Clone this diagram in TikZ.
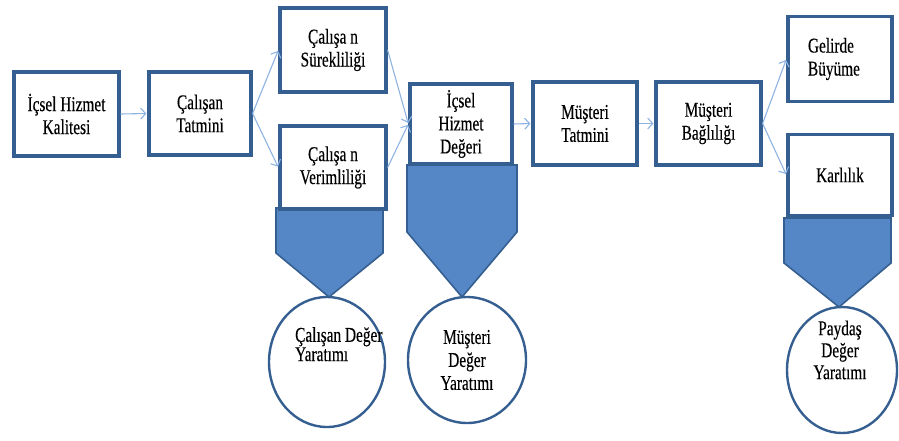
\documentclass[tikz,border=0pt]{standalone}
\usepackage{fontspec}
\setmainfont{Liberation Serif}
\newfontfamily\labelfont{Liberation Serif}[FakeStretch=0.73,FakeBold=0.3]
\usetikzlibrary{arrows.meta,shapes.geometric}
\definecolor{boxline}{HTML}{365F91}
\definecolor{arrowblue}{HTML}{8DB3E2}
\definecolor{shieldfill}{HTML}{5587C6}
\begin{document}
\begin{tikzpicture}[x=1pt,y=-1pt,
  every node/.style={font=\labelfont\fontsize{21}{23}\selectfont, text=black},
  stagebox/.style={draw=boxline, line width=3.2pt, fill=white, rectangle, align=center, inner sep=0pt},
  flow/.style={draw=arrowblue, line width=1.1pt, -{Straight Barb[length=5pt,width=11pt]}, shorten >=1pt},
  shield/.style={fill=shieldfill, draw=boxline, line width=1.6pt, line join=miter},
  valuecircle/.style={draw=boxline, line width=2.4pt, fill=white, ellipse, inner sep=0pt}]
\useasboundingbox (0,0) rectangle (899,440);

% value shields hanging below the chain
\path[shield] (276,208) -- (383,208) -- (383,253) -- (329,297) -- (276,253) -- cycle;
\path[shield] (407,165) -- (517,165) -- (517,232) -- (462,297) -- (407,232) -- cycle;
\path[shield] (784,218) -- (891,218) -- (891,263) -- (839,307) -- (784,263) -- cycle;

% service chain stages
\node[stagebox, minimum width=105, minimum height=84] (q) at (66.5,114) {İçsel Hizmet\\Kalitesi};
\node[stagebox, minimum width=102, minimum height=83] (ct) at (200,113.5) {Çalışan\\Tatmini};
\node[stagebox, minimum width=106, minimum height=84] (cs) at (333,50) {Çalışa n\\Sürekliliği};
\node[stagebox, minimum width=106, minimum height=83] (cv) at (333,167.5) {Çalışa n\\Verimliliği};
\node[stagebox, minimum width=102, minimum height=80] (hd) at (461,124) {İçsel\\Hizmet\\Değeri};
\node[stagebox, minimum width=104, minimum height=83] (mt) at (585,123.5) {Müşteri\\Tatmini};
\node[stagebox, minimum width=105, minimum height=83] (mb) at (708.5,123.5) {Müşteri\\Bağlılığı};
\node[stagebox, minimum width=104, minimum height=85, text width=96, align=left] (gb) at (840,59) {\hspace*{16pt}Gelirde\\\hspace*{16pt}Büyüme};
\node[stagebox, minimum width=104, minimum height=81] (kr) at (840,175) {Karlılık};

% value creation circles
\node[valuecircle, minimum width=116, minimum height=130] (cdy) at (327,362) {};
\node[anchor=north west, align=left, inner sep=0pt, font=\labelfont\fontsize{21}{18}\selectfont] (cdyt) at (295,327) {Çalışan Değer\\Yaratımı};
\node[valuecircle, minimum width=118, minimum height=126, align=center] (mdy) at (467,360) {Müşteri\\Değer\\Yaratımı};
\node[valuecircle, minimum width=110, minimum height=126] (pdy) at (842,370) {};
\node[align=center, inner sep=0pt, font=\labelfont\fontsize{21}{22}\selectfont] (pdyt) at (840,350) {Paydaş\\Değer\\Yaratımı};

% connectors
\draw[flow] (q.east) -- (ct.west);
\draw[flow] (ct.east) -- (cs.west);
\draw[flow] (ct.east) -- (cv.west);
\draw[flow] (cs.east) -- (hd.west);
\draw[flow] (cv.east) -- (hd.west);
\draw[flow] (hd.east) -- (mt.west);
\draw[flow] (mt.east) -- (mb.west);
\draw[flow] (mb.east) -- (gb.west);
\draw[flow] (mb.east) -- (kr.west);
\end{tikzpicture}
\end{document}
